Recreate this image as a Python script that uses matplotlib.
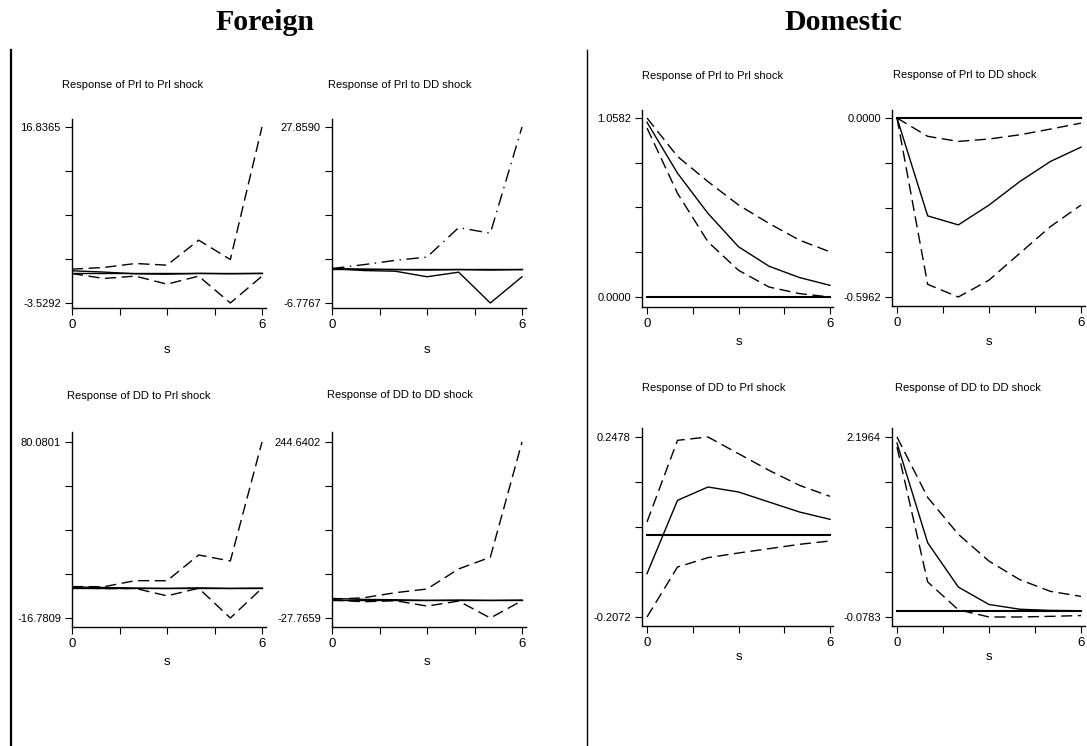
import numpy as np
import matplotlib
matplotlib.use("Agg")
import matplotlib.pyplot as plt
from matplotlib import font_manager
from matplotlib.lines import Line2D

# ---- data -----------------------------------------------------------------
steps = [0, 1, 2, 3, 4, 5, 6]

titles = ["Response of Prl to Prl shock", "Response of Prl to DD shock",
          "Response of DD to Prl shock", "Response of DD to DD shock"] * 2

# foreign panels (TL, TR, BL, BR) then domestic panels (TL, TR, BL, BR)
irf = [
    [0.2, 0.05, -0.15, -0.2, -0.1, -0.15, -0.1],
    [0.0, -0.1, -0.2, -0.3, -0.2, -0.3, -0.2],
    [0.3, 0.0, -0.3, -0.5, -0.2, -0.5, -0.3],
    [2.5, 1.0, 0.5, -0.5, 0.0, -0.5, 0.0],
    [1.033, 0.732, 0.494, 0.297, 0.182, 0.115, 0.069],
    [0.0, -0.326, -0.356, -0.290, -0.212, -0.145, -0.097],
    [-0.0977, 0.0877, 0.1214, 0.1088, 0.0835, 0.0582, 0.0397],
    [2.12, 0.86, 0.30, 0.08, 0.02, 0.005, 0.001],
]
lower = [
    [-0.12, -0.69, -0.42, -1.35, -0.42, -3.5292, -0.42],
    [0.0, -0.39, -0.52, -1.61, -0.71, -6.7767, -1.61],
    [0.0, -0.6, -0.5, -4.6, -0.4, -16.7809, -0.4],
    [0.0, -2.6, -1.0, -9.3, -1.6, -27.7659, -1.0],
    [0.999, 0.613, 0.326, 0.158, 0.059, 0.020, 0.0],
    [0.0, -0.554, -0.5962, -0.540, -0.451, -0.362, -0.290],
    [-0.2072, -0.0808, -0.0572, -0.0454, -0.0345, -0.0235, -0.0151],
    [2.069, 0.365, 0.013, -0.078, -0.078, -0.070, -0.060],
]
upper = [
    [0.39, 0.58, 1.04, 0.85, 3.74, 1.50, 16.8365],
    [0.0, 0.77, 1.61, 2.26, 8.06, 6.96, 27.8590],
    [0.5, 0.4, 3.8, 3.7, 17.9, 14.6, 80.0801],
    [1.0, 3.6, 11.4, 17.1, 48.2, 66.3, 244.6402],
    [1.0582, 0.831, 0.682, 0.544, 0.435, 0.336, 0.267],
    [0.0, -0.061, -0.078, -0.070, -0.056, -0.037, -0.017],
    [0.0329, 0.2394, 0.2478, 0.2057, 0.1635, 0.1256, 0.0978],
    [2.1964, 1.433, 0.967, 0.628, 0.394, 0.246, 0.182],
]
ytick_lo = [-3.5292, -6.7767, -16.7809, -27.7659, 0.0, -0.5962, -0.2072, -0.0783]
ytick_hi = [16.8365, 27.8590, 80.0801, 244.6402, 1.0582, 0.0, 0.2478, 2.1964]
ylab_lo = ["-3.5292", "-6.7767", "-16.7809", "-27.7659", "0.0000", "-0.5962", "-0.2072", "-0.0783"]
ylab_hi = ["16.8365", "27.8590", "80.0801", "244.6402", "1.0582", "0.0000", "0.2478", "2.1964"]

# ---- layout (pixels, origin top-left) -------------------------------------
W, H = 1087, 746
# x0, x6, ytop, ybot, axis left, axis top, x-axis, axis right
boxes = [
    (72, 262, 127, 303, 72, 119, 308, 266),
    (332, 522, 127, 303, 332, 119, 308, 526),
    (72, 262, 442, 618, 72, 432, 627, 266),
    (332, 522, 442, 618, 332, 432, 627, 526),
    (647, 830, 118, 297, 642, 110, 307, 833),
    (897, 1081, 118, 297, 892, 110, 306, 1085),
    (647, 830, 437, 617, 642, 428, 626, 833),
    (897, 1081, 437, 617, 892, 428, 626, 1085),
]
title_pos = [(62, 88), (328, 88), (67, 399), (327, 398),
             (642, 79), (893, 78), (642, 391), (895, 391)]
s_y = [350, 350, 662, 662, 342, 342, 657, 657]
zero_lw = [1.0, 1.0, 1.0, 1.0, 1.5, 1.5, 1.5, 1.5]
band_styles = [("dash", "dash"), ("solid", "dashdot"), ("dash", "dash"), ("dash", "dash"),
               ("dash", "dash"), ("dash", "dash"), ("dash", "dash"), ("dash", "dash")]

names = {f.name for f in font_manager.fontManager.ttflist}
if "Liberation Sans Narrow" in names:
    sans, fs = "Liberation Sans Narrow", 9.7
else:
    sans, fs = "Liberation Sans", 8.0
serif = "Liberation Serif"

fig = plt.figure(figsize=(W / 100, H / 100), dpi=100)
fig.patch.set_facecolor("white")


def fx(px):
    return px / W


def fy(py):
    return 1 - py / H


def style_kw(name):
    if name == "solid":
        return dict(linestyle="-")
    if name == "dashdot":
        return dict(dashes=(9, 4, 1, 4))
    return dict(dashes=(8, 4))


for i in range(8):
    x0, x6, yt, yb, al, at, xa, ar = boxes[i]
    lo, hi = ytick_lo[i], ytick_hi[i]
    ax = fig.add_axes([fx(al), fy(xa), (ar - al) / W, (xa - at) / H])

    def vx(px):
        return (px - x0) / (x6 - x0) * 6

    def vy(py):
        return lo + (yb - py) / (yb - yt) * (hi - lo)

    ax.plot(steps, [0] * len(steps), color="black", lw=zero_lw[i])
    ax.plot(steps, irf[i], color="black", lw=1.0)
    ax.plot(steps, lower[i], color="black", lw=1.0, **style_kw(band_styles[i][0]))
    ax.plot(steps, upper[i], color="black", lw=1.0, **style_kw(band_styles[i][1]))

    ax.set_xlim(vx(al), vx(ar))
    ax.set_ylim(vy(xa), vy(at))
    ax.set_yticks(np.linspace(lo, hi, 5))
    ax.set_yticklabels([ylab_lo[i], "", "", "", ylab_hi[i]], fontfamily=sans, fontsize=fs)
    ax.set_xticks([0, 1.5, 3, 4.5, 6])
    ax.set_xticklabels(["0", "", "", "", "6"], fontfamily=sans, fontsize=fs + 1.5)
    ax.tick_params(length=5, width=0.8, color="black", pad=3)
    for side in ["top", "right"]:
        ax.spines[side].set_visible(False)
    for side in ["left", "bottom"]:
        ax.spines[side].set_linewidth(1.0)
    ax.patch.set_alpha(0)

    tx, ty = title_pos[i]
    fig.text(fx(tx), fy(ty), titles[i], fontfamily=sans, fontsize=fs, va="baseline", ha="left")
    fig.text(fx((x0 + x6) / 2), fy(s_y[i]), "s", fontfamily=sans, fontsize=fs + 1.5,
             ha="center", va="center")

fig.text(fx(265), fy(22), "Foreign", fontfamily=serif, fontweight="bold", fontsize=21.5,
         ha="center", va="center")
fig.text(fx(843), fy(22), "Domestic", fontfamily=serif, fontweight="bold", fontsize=21.5,
         ha="center", va="center")

fig.add_artist(Line2D([fx(11), fx(11)], [fy(50), fy(746)], color="black", lw=1.6))
fig.add_artist(Line2D([fx(587), fx(587)], [fy(50), fy(746)], color="black", lw=1.0))

fig.savefig("out.png", dpi=100)
